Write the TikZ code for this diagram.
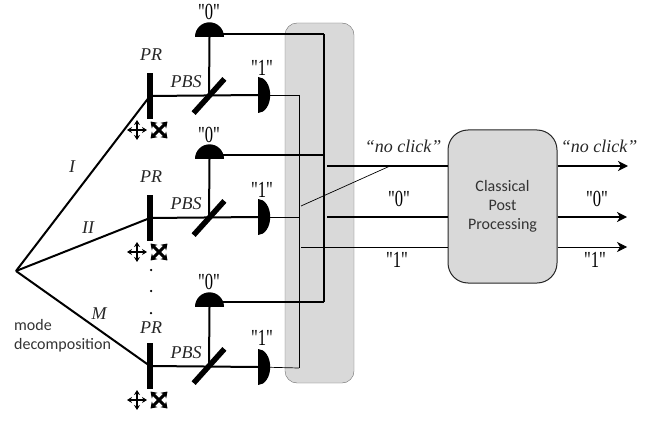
\documentclass[tikz,border=0pt]{standalone}
\usepackage{fontspec}
\setmainfont{Liberation Serif}
\newfontfamily\boxfont{Carlito}
\newfontfamily\bitfont{Liberation Serif}
\usetikzlibrary{arrows.meta,shapes.geometric}
\definecolor{boxgray}{HTML}{D9D9D9}
\definecolor{boxline}{HTML}{6E6E6E}
\begin{document}
\begin{tikzpicture}[x=1pt,y=-1pt]
		\tikzstyle{PLATE}=[rectangle,fill=black,inner sep=0pt,minimum width=6pt,minimum height=46pt]
		\tikzstyle{SPLIT}=[rectangle,fill=black,inner sep=0pt,minimum width=46pt,minimum height=5.5pt,rotate=48]
		\tikzstyle{DZERO}=[semicircle,fill=black,inner sep=0pt,minimum width=29pt,anchor=chord center]
		\tikzstyle{DONE}=[semicircle,fill=black,inner sep=0pt,minimum width=36pt,anchor=chord center,rotate=-90,yscale=0.67]
		\tikzstyle{NAME}=[inner sep=0pt,text=black!85,font=\fontsize{18}{18}\selectfont\itshape]
		\tikzstyle{BIT}=[inner sep=0pt,xscale=0.72,font=\bitfont\fontsize{23}{23}\selectfont]
		\tikzstyle{SANS}=[inner sep=0pt,align=left,text=black!80,font=\boxfont\fontsize{16}{19}\selectfont]
		\tikzstyle{DOT}=[circle,fill=black,inner sep=0pt,minimum size=2.5pt]
		\tikzstyle{MOVE}=[{Stealth[length=5pt,width=6pt]}-{Stealth[length=5pt,width=6pt]},line width=1.8pt]
		\tikzstyle{TURN}=[{Stealth[length=6pt,width=8pt]}-{Stealth[length=6pt,width=8pt]},line width=3pt]
		\tikzstyle{TIP}=[-{Stealth[length=10pt,width=10pt,inset=3pt]}]
		\useasboundingbox (0,0) rectangle (668,422);
		
		\node[rectangle,draw=boxline,fill=boxgray,rounded corners=12pt,minimum width=69pt,minimum height=360pt] (bus) at (319.5,203) {};
		\node[rectangle,draw=black!85,line width=1pt,fill=boxgray,rounded corners=20pt,minimum width=109pt,minimum height=153pt,text=black!80,font=\boxfont\fontsize{16}{19}\selectfont,align=center] (post) at (502.5,206.5) {Classical\\Post\\Processing};
		
		\begin{scope}
		\coordinate (src) at (16,271);
		\node[PLATE] (pr-a) at (150,96) {};
		\node[PLATE] (pr-b) at (150,218) {};
		\node[PLATE] (pr-c) at (150,366) {};
		\node[SPLIT] (pbs-a) at (209,96) {};
		\node[SPLIT] (pbs-b) at (209,218) {};
		\node[SPLIT] (pbs-c) at (209,366) {};
		\node[DZERO] (zero-a) at (209.5,37) {};
		\node[DZERO] (zero-b) at (209.5,159) {};
		\node[DZERO] (zero-c) at (209.5,307) {};
		\node[DONE] (one-a) at (258,95) {};
		\node[DONE] (one-b) at (258,217) {};
		\node[DONE] (one-c) at (258,367) {};
		\end{scope}
		
		\coordinate (rail-a) at (324,34);
		\coordinate (rail-b) at (324,155);
		\coordinate (rail-c) at (324,302);
		\coordinate (thin-a) at (299,95);
		\coordinate (thin-b) at (299,217);
		\coordinate (thin-c) at (299,368);
		\coordinate (in-none) at (327,166);
		\coordinate (in-zero) at (327,217);
		\coordinate (in-one) at (301,247);
		\coordinate (diag-a) at (301,206);
		\coordinate (diag-b) at (390,166);
		\coordinate (out-none) at (628,166);
		\coordinate (out-zero) at (627,217);
		\coordinate (out-one) at (627,247);
		
		\path[-,line width=0.7pt]
		(one-a.chord center) edge (thin-a)
		(one-b.chord center) edge (thin-b)
		(one-c.chord center) edge (thin-c)
		(thin-a) edge (thin-c)
		(diag-a) edge (diag-b)
		(in-one) edge (in-one -| post.west)
		;
		\path[TIP,line width=0.7pt]
		(in-one -| post.east) edge (out-one)
		;
		\path[-,line width=2pt]
		(src) edge (pr-a.center)
		(src) edge (pr-b.center)
		(src) edge (pr-c.center)
		(pr-a.center) edge (one-a.chord center)
		(pr-b.center) edge (one-b.chord center)
		(pr-c.center) edge (one-c.chord center)
		(pbs-a.center) edge (zero-a.chord center)
		(pbs-b.center) edge (zero-b.chord center)
		(pbs-c.center) edge (zero-c.chord center)
		;
		\path[-,line width=2.2pt]
		(zero-a.center |- rail-a) edge (rail-a)
		(zero-b.center |- rail-b) edge (rail-b)
		(zero-c.center |- rail-c) edge (rail-c)
		(rail-a) edge (rail-c)
		(in-none) edge (in-none -| post.west)
		(in-zero) edge (in-zero -| post.west)
		;
		\path[TIP,line width=2.2pt]
		(in-none -| post.east) edge (out-none)
		(in-zero -| post.east) edge (out-zero)
		;
		
		\node[NAME] (pr-a-l) at (151,55) {PR};
		\node[NAME] (pr-b-l) at (151,177) {PR};
		\node[NAME] (pr-c-l) at (151,328) {PR};
		\node[NAME] (pbs-a-l) at (186,82) {PBS};
		\node[NAME] (pbs-b-l) at (186,204) {PBS};
		\node[NAME] (pbs-c-l) at (186,353) {PBS};
		\node[NAME] (mode-i) at (72,167) {I};
		\node[NAME] (mode-ii) at (88,228) {II};
		\node[NAME] (mode-m) at (99,314) {M};
		\node[NAME] (none-l) at (403,146) {“no click”};
		\node[NAME] (none-r) at (599,146) {“no click”};
		\node[BIT] (zero-a-l) at (209,12) {"0"};
		\node[BIT] (zero-b-l) at (209,135) {"0"};
		\node[BIT] (zero-c-l) at (209,282) {"0"};
		\node[BIT] (one-a-l) at (262,68) {"1"};
		\node[BIT] (one-b-l) at (262,190) {"1"};
		\node[BIT] (one-c-l) at (262,338) {"1"};
		\node[BIT] (zero-in) at (399,199) {"0"};
		\node[BIT] (zero-out) at (597,199) {"0"};
		\node[BIT] (one-in) at (397,260) {"1"};
		\node[BIT] (one-out) at (595,260) {"1"};
		\node[SANS,anchor=west] (mode-l) at (14,335.5) {mode\\decomposition};
		\node[DOT] (dot-a) at (151,270) {};
		\node[DOT] (dot-b) at (151,291) {};
		\node[DOT] (dot-c) at (151,313) {};
		
		% movement marks under each plate
		\coordinate (ma) at (137,130);
		\coordinate (mb) at (137,252);
		\coordinate (mc) at (137,400);
		\coordinate (ta) at (159,130);
		\coordinate (tb) at (159,252);
		\coordinate (tc) at (159,400);
		\draw[MOVE] ([xshift=-10pt]ma) -- ([xshift=10pt]ma);
		\draw[MOVE] ([yshift=-10pt]ma) -- ([yshift=10pt]ma);
		\draw[TURN] ([shift={(-8.5pt,-8.5pt)}]ta) -- ([shift={(8.5pt,8.5pt)}]ta);
		\draw[TURN] ([shift={(-8.5pt,8.5pt)}]ta) -- ([shift={(8.5pt,-8.5pt)}]ta);
		\draw[MOVE] ([xshift=-10pt]mb) -- ([xshift=10pt]mb);
		\draw[MOVE] ([yshift=-10pt]mb) -- ([yshift=10pt]mb);
		\draw[TURN] ([shift={(-8.5pt,-8.5pt)}]tb) -- ([shift={(8.5pt,8.5pt)}]tb);
		\draw[TURN] ([shift={(-8.5pt,8.5pt)}]tb) -- ([shift={(8.5pt,-8.5pt)}]tb);
		\draw[MOVE] ([xshift=-10pt]mc) -- ([xshift=10pt]mc);
		\draw[MOVE] ([yshift=-10pt]mc) -- ([yshift=10pt]mc);
		\draw[TURN] ([shift={(-8.5pt,-8.5pt)}]tc) -- ([shift={(8.5pt,8.5pt)}]tc);
		\draw[TURN] ([shift={(-8.5pt,8.5pt)}]tc) -- ([shift={(8.5pt,-8.5pt)}]tc);
		
		\end{tikzpicture}
\end{document}
